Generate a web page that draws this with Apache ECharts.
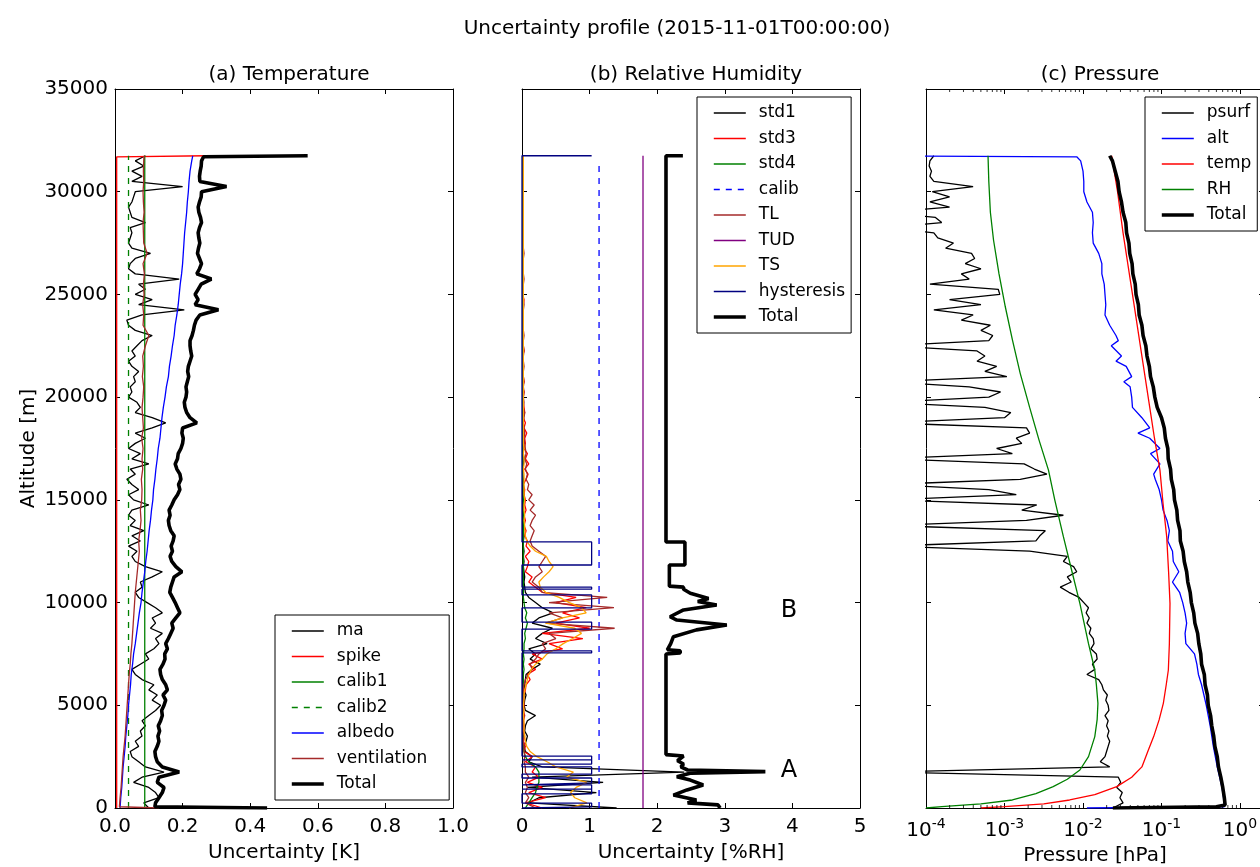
<!DOCTYPE html>
<html><head><meta charset="utf-8">
<script src="https://cdn.jsdelivr.net/npm/echarts@6/dist/echarts.min.js"></script>
<style>html,body{margin:0;padding:0;background:#fff}#chart{width:1260px;height:867px}</style>
</head><body><div id="chart"></div>
<script>
// ---------- altitude grids (m) ----------
const ALT250 = [
0,250,500,750,1000,1250,1500,1750,
2000,2250,2500,2750,3000,3250,3500,3750,
4000,4250,4500,4750,5000,5250,5500,5750,
6000,6250,6500,6750,7000,7250,7500,7750,
8000,8250,8500,8750,9000,9250,9500,9750,
10000,10250,10500,10750,11000,11250,11500,11750,
12000,12250,12500,12750,13000,13250,13500,13750,
14000,14250,14500,14750,15000,15250,15500,15750,
16000,16250,16500,16750,17000,17250,17500,17750,
18000,18250,18500,18750,19000,19250,19500,19750,
20000,20250,20500,20750,21000,21250,21500,21750,
22000,22250,22500,22750,23000,23250,23500,23750,
24000,24250,24500,24750,25000,25250,25500,25750,
26000,26250,26500,26750,27000,27250,27500,27750,
28000,28250,28500,28750,29000,29250,29500,29750,
30000,30250,30500,30750,31000,31250,31500,31750];
const ALT500 = [
0,500,1000,1500,2000,2500,3000,3500,
4000,4500,5000,5500,6000,6500,7000,7500,
8000,8500,9000,9500,10000,10500,11000,11500,
12000,12500,13000,13500,14000,14500,15000,15500,
16000,16500,17000,17500,18000,18500,19000,19500,
20000,20500,21000,21500,22000,22500,23000,23500,
24000,24500,25000,25500,26000,26500,27000,27500,
28000,28500,29000,29500,30000,30500,31000,31500,
31750];
// extra levels at the bottom / top of the sounding
const BASE_ALT = [0, 60];
const TOP_ALT = [31700, 31750];

// ---------- panel (a) Temperature, K ----------
const A_MA = [
0.10,0.085,0.13,0.12,0.10,0.055,0.08,0.145,
0.09,0.07,0.05,0.045,0.07,0.06,0.08,0.075,
0.09,0.08,0.10,0.12,0.135,0.11,0.125,0.10,
0.115,0.08,0.06,0.05,0.075,0.10,0.09,0.115,
0.13,0.12,0.14,0.105,0.12,0.11,0.14,0.12,
0.095,0.07,0.06,0.08,0.075,0.11,0.14,0.09,
0.06,0.05,0.065,0.04,0.075,0.05,0.085,0.045,
0.06,0.04,0.05,0.10,0.055,0.04,0.07,0.05,
0.035,0.06,0.045,0.10,0.05,0.075,0.04,0.06,
0.09,0.06,0.11,0.15,0.11,0.06,0.075,0.065,
0.04,0.05,0.045,0.06,0.055,0.07,0.05,0.04,
0.06,0.05,0.065,0.08,0.11,0.06,0.04,0.035,
0.08,0.205,0.07,0.11,0.06,0.09,0.07,0.19,
0.06,0.04,0.045,0.06,0.105,0.05,0.04,0.045,
0.05,0.045,0.09,0.05,0.045,0.04,0.05,0.055,
0.06,0.20,0.05,0.08,0.05,0.085,0.06,0.09];
// Total on ALT250 (index 0 = ground, last = top)
const A_TOTAL = [
0.45,0.12,0.13,0.14,0.145,0.125,0.13,0.19,
0.14,0.125,0.12,0.118,0.125,0.13,0.127,0.132,
0.128,0.135,0.14,0.138,0.145,0.15,0.142,0.155,
0.15,0.14,0.135,0.133,0.142,0.148,0.147,0.155,
0.15,0.158,0.165,0.172,0.168,0.18,0.192,0.185,
0.178,0.17,0.162,0.165,0.17,0.175,0.198,0.18,
0.168,0.163,0.17,0.166,0.172,0.175,0.165,0.16,
0.158,0.163,0.16,0.168,0.175,0.185,0.192,0.188,
0.195,0.192,0.183,0.178,0.185,0.187,0.195,0.2,
0.202,0.198,0.2,0.242,0.222,0.212,0.207,0.205,
0.21,0.212,0.21,0.214,0.218,0.215,0.217,0.222,
0.227,0.224,0.222,0.222,0.228,0.232,0.235,0.24,
0.251,0.306,0.237,0.246,0.237,0.246,0.255,0.285,
0.242,0.25,0.256,0.25,0.244,0.247,0.251,0.248,
0.246,0.25,0.256,0.253,0.248,0.246,0.25,0.255,
0.256,0.33,0.251,0.25,0.252,0.255,0.256,0.57];
const A_TOTAL_BASE = [0.45, 0.118];   // at BASE_ALT
const A_TOTAL_TOP = [0.262, 0.57];    // at TOP_ALT
const A_VENT = [
0.13,0.015,0.018,0.02,0.022,0.024,0.027,0.03,
0.032,0.034,0.036,0.038,0.04,0.042,0.045,0.047,
0.05,0.052,0.054,0.056,0.058,0.06,0.063,0.066,
0.069,0.072,0.07,0.074,0.077,0.075,0.079,0.08,
0.078,0.082,0.08,0.083,0.079,0.084,0.082,0.08,
0.083,0.085,0.081,0.084,0.082,0.09,0.10,0.083,
0.085,0.082,0.086,0.084,0.087,0.083,0.095,0.085,
0.084,0.083,0.086,0.084,0.083,0.085,0.084,0.085,
0.086];
const A_VENT_BASE = [0.13, 0.013];    // at BASE_ALT
const A_ALBEDO = [
0.015,0.017,0.02,0.022,0.024,0.027,0.03,0.032,
0.035,0.038,0.04,0.043,0.046,0.048,0.052,0.055,
0.06,0.064,0.068,0.072,0.077,0.08,0.084,0.088,
0.091,0.095,0.098,0.101,0.105,0.108,0.112,0.114,
0.118,0.121,0.125,0.128,0.133,0.136,0.139,0.143,
0.148,0.152,0.158,0.161,0.166,0.17,0.175,0.178,
0.183,0.187,0.19,0.193,0.197,0.2,0.202,0.204,
0.206,0.209,0.212,0.214,0.217,0.219,0.222,0.227,
0.23];
const A_SPIKE_ALT = [0, 31700, 31750];
const A_SPIKE = [0.005, 0.005, 0.27];
const A_CALIB_ALT = [0, 31750];
const A_CALIB1 = [0.088, 0.088];
const A_CALIB2 = [0.04, 0.04];

// ---------- panel (b) Relative Humidity, %RH ----------
const B_STD1 = [
1.4,0.1,0.25,1.1,0.08,1.2,0.15,2.4,
0.3,0.1,0.15,0.05,0.03,0.06,0.08,0.04,
0.05,0.08,0.2,0.05,0.03,0.04,0.06,0.03,
0.04,0.05,0.06,0.15,0.27,0.12,0.2,0.1,
0.37,0.2,0.3,0.45,0.15,0.25,0.46,0.3,
0.2,0.1,0.05,0.04,0.03,0.04,0.03,0.02,
0.03,0.02,0.03,0.02,0.02,0.03,0.02,0.02,
0.02,0.03,0.02,0.01,0.02,0.03,0.02,0.02,
0.02,0.01,0.02,0.02,0.03,0.02,0.01,0.02,
0.02,0.02,0.01,0.02,0.02,0.01,0.02,0.02,
0.01,0.02,0.01,0.02,0.01,0.02,0.01,0.02,
0.01,0.02,0.01,0.02,0.01,0.02,0.01,0.02,
0.01,0.02,0.01,0.02,0.01,0.02,0.01,0.02,
0.01,0.02,0.01,0.02,0.01,0.02,0.01,0.02,
0.01,0.02,0.01,0.02,0.01,0.02,0.01,0.02,
0.01,0.02,0.01,0.02,0.01,0.02,0.01,0.02];
const B_STD3 = [
0.3,0.05,0.35,0.1,0.3,0.08,0.25,0.15,
0.2,0.05,0.15,0.03,0.05,0.02,0.04,0.02,
0.03,0.02,0.04,0.02,0.03,0.02,0.03,0.05,
0.06,0.12,0.08,0.2,0.1,0.3,0.15,0.6,
0.4,0.9,0.3,1.0,0.5,0.85,0.6,0.95,
0.5,0.8,0.3,0.2,0.1,0.15,0.05,0.08,
0.1,0.05,0.12,0.06,0.08,0.04,0.06,0.03,
0.05,0.03,0.06,0.04,0.05,0.03,0.04,0.02,
0.06,0.09,0.04,0.1,0.05,0.08,0.03,0.05,
0.04,0.07,0.03,0.05,0.02,0.04,0.03,0.02,
0.02,0.03,0.01,0.03,0.02,0.01,0.02,0.02,
0.01,0.03,0.02,0.01,0.02,0.02,0.01,0.02,
0.02,0.01,0.02,0.03,0.01,0.02,0.01,0.02,
0.01,0.02,0.02,0.01,0.02,0.01,0.02,0.01,
0.02,0.01,0.01,0.02,0.01,0.02,0.01,0.01,
0.01,0.02,0.01,0.01,0.02,0.01,0.01,0.01];
const B_STD4 = [
0.05,0.1,0.15,0.2,0.22,0.25,0.25,0.25,
0.2,0.1,0.05,0.03,0.02,0.02,0.02,0.02,
0.02,0.02,0.02,0.02,0.02,0.02,0.02,0.02,
0.02,0.02,0.02,0.03,0.02,0.03,0.02,0.03,
0.03,0.05,0.04,0.06,0.08,0.05,0.07,0.04,
0.03,0.02,0.02,0.02,0.02,0.02,0.02,0.02,
0.02,0.02,0.02,0.02,0.02,0.02,0.02,0.02,
0.02,0.02,0.02,0.02,0.02,0.02,0.02,0.02,
0.01,0.01,0.01,0.01,0.01,0.01,0.01,0.01,
0.01,0.01,0.01,0.01,0.01,0.01,0.01,0.01,
0.01,0.01,0.01,0.01,0.01,0.01,0.01,0.01,
0.01,0.01,0.01,0.01,0.01,0.01,0.01,0.01,
0.01,0.01,0.01,0.01,0.01,0.01,0.01,0.01,
0.01,0.01,0.01,0.01,0.01,0.01,0.01,0.01,
0.01,0.01,0.01,0.01,0.01,0.01,0.01,0.01,
0.01,0.01,0.01,0.01,0.01,0.01,0.01,0.01];
const B_TL = [
0.2,0.05,0.1,0.05,0.08,0.05,0.1,0.05,
0.05,0.03,0.04,0.03,0.03,0.02,0.03,0.02,
0.02,0.02,0.03,0.02,0.02,0.02,0.03,0.02,
0.03,0.05,0.1,0.15,0.12,0.2,0.25,0.35,
0.3,0.5,0.4,1.37,0.35,0.6,0.4,1.36,
0.4,1.26,0.3,0.25,0.15,0.2,0.3,0.25,
0.3,0.35,0.25,0.15,0.12,0.15,0.18,0.12,
0.15,0.2,0.12,0.18,0.1,0.15,0.08,0.1,
0.06,0.08,0.05,0.07,0.04,0.06,0.05,0.04,
0.03,0.04,0.03,0.02,0.03,0.04,0.02,0.03,
0.02,0.03,0.02,0.03,0.02,0.02,0.03,0.02,
0.02,0.03,0.02,0.02,0.03,0.02,0.02,0.02,
0.02,0.02,0.03,0.02,0.02,0.02,0.02,0.03,
0.02,0.02,0.02,0.02,0.03,0.02,0.02,0.02,
0.02,0.02,0.02,0.02,0.02,0.02,0.02,0.02,
0.02,0.02,0.02,0.02,0.02,0.02,0.02,0.02];
const B_TS = [
0.7,0.96,0.78,0.72,0.8,0.96,0.66,0.76,
0.5,0.37,0.22,0.12,0.07,0.05,0.04,0.03,
0.03,0.03,0.02,0.03,0.02,0.03,0.03,0.04,
0.06,0.08,0.1,0.14,0.2,0.3,0.37,0.5,
0.61,0.75,0.88,0.78,0.35,0.6,0.95,0.88,
0.7,0.55,0.35,0.27,0.25,0.32,0.4,0.46,
0.4,0.36,0.2,0.12,0.07,0.05,0.04,0.04,
0.03,0.04,0.03,0.03,0.04,0.03,0.03,0.03,
0.03,0.03,0.02,0.03,0.03,0.02,0.03,0.02,
0.02,0.02,0.02,0.02,0.02,0.02,0.02,0.02,
0.02,0.02,0.02,0.02,0.02,0.02,0.02,0.02,
0.02,0.02,0.02,0.02,0.02,0.02,0.02,0.02,
0.02,0.02,0.02,0.02,0.02,0.02,0.02,0.02,
0.02,0.02,0.02,0.02,0.02,0.02,0.02,0.02,
0.02,0.02,0.02,0.02,0.02,0.02,0.02,0.02,
0.02,0.02,0.02,0.02,0.02,0.02,0.02,0.02];
const B_CALIB_ALT = [0, 31500];
const B_CALIB = [1.14, 1.14];
const B_TUD_ALT = [0, 31750];
const B_TUD = [1.79, 1.79];
const B_HYST_LO = [50, 690, 920, 1220, 1650, 2140, 2340, 7550, 8710, 9740, 10650, 11830];
const B_HYST_HI = [240, 920, 1130, 1460, 2000, 2340, 2530, 7650, 9050, 10370, 10750, 12950];
const B_HYST_VALUE = 1.03;
const B_HYST_TOP = 31750;
const B_TOTAL_ALT = [0,150,250,390,630,880,1120,1360,1520,1700,1770,1850,2000,2140,2300,2530,
  2600,7500,7550,7650,7700,8000,8340,8670,8910,9150,9310,9640,9880,10050,10200,10450,
  10650,10750,10800,11830,11830,12950,12950,31750,31750];
const B_TOTAL = [2.93,2.9,2.45,2.58,2.24,2.44,2.68,2.49,2.29,2.5,3.6,2.45,2.35,2.39,2.3,2.39,
  2.13,2.13,2.34,2.34,2.15,2.2,2.24,2.58,3.03,2.29,2.19,2.39,2.88,2.6,2.76,2.49,
  2.39,2.39,2.18,2.18,2.41,2.41,2.13,2.13,2.38];
const B_NOTES = [{name: 'B', x: 3.95, alt: 9600}, {name: 'A', x: 3.95, alt: 1800}];

// ---------- panel (c) Pressure, hPa (values stored as log10) ----------
const C_PSURF_LOG10 = [
-1.62,-1.49,-1.53,-1.50,-1.57,-1.52,-1.55,-4.5,
-1.66,-1.78,-1.72,-1.70,-1.68,-1.66,-1.69,-1.67,
-1.70,-1.68,-1.72,-1.67,-1.68,-1.71,-1.69,-1.74,
-1.76,-1.80,-1.95,-1.85,-1.88,-1.82,-1.83,-1.90,
-1.86,-1.87,-1.92,-1.90,-1.95,-1.92,-1.96,-1.93,
-1.99,-2.05,-2.18,-2.29,-2.15,-2.20,-2.08,-2.12,
-2.25,-2.20,-2.68,-4.5,-2.60,-2.55,-2.48,-4.5,
-2.72,-2.25,-2.78,-2.59,-4.5,-2.85,-3.2,-4.5,
-2.80,-2.46,-2.62,-2.75,-4.5,-2.9,-3.1,-2.78,
-2.85,-2.68,-2.72,-4.5,-3.0,-2.92,-3.25,-4.5,
-3.2,-3.05,-3.45,-4.5,-2.97,-3.25,-3.1,-3.35,
-3.25,-3.35,-4.5,-3.2,-3.15,-3.3,-3.18,-3.55,
-3.4,-3.9,-3.3,-3.7,-3.06,-3.08,-3.95,-3.45,
-3.55,-3.3,-3.5,-3.38,-3.42,-3.75,-3.65,-3.85,
-3.9,-4.5,-3.8,-3.88,-4.5,-3.7,-3.95,-3.7,
-3.92,-3.40,-3.9,-3.95,-3.93,-3.96,-3.95,-3.9];
const C_ALT_ALT = [0,60,500,1000,2000,3000,4000,5000,
  5500,6000,6500,7000,7500,8000,8500,9000,
  9500,10000,10500,11000,11500,12000,12500,13000,
  13500,14000,14500,15000,15500,16000,16250,16750,
  17250,17500,18000,18250,18500,19000,19500,20000,
  20500,20750,21000,21500,21750,22000,22500,22750,
  23000,23500,24000,24500,25000,25500,26000,26500,
  27000,27500,28000,28500,29000,29500,30000,30500,
  31000,31500,31700,31750];
const C_ALT_LOG10 = [-1.95,-0.2,-0.21,-0.23,-0.29,-0.34,-0.38,-0.43,
  -0.46,-0.49,-0.53,-0.55,-0.58,-0.69,-0.70,-0.68,
  -0.70,-0.73,-0.77,-0.86,-0.78,-0.85,-0.86,-0.92,
  -0.90,-0.93,-0.98,-1.0,-1.03,-1.08,-1.10,-1.02,
  -1.14,-1.02,-1.15,-1.3,-1.15,-1.25,-1.37,-1.38,
  -1.40,-1.48,-1.38,-1.45,-1.58,-1.51,-1.64,-1.55,
  -1.58,-1.66,-1.72,-1.71,-1.72,-1.73,-1.76,-1.76,
  -1.80,-1.87,-1.88,-1.87,-1.88,-1.95,-1.99,-1.99,
  -2.0,-2.03,-2.08,-5];
const C_TEMP_ALT = [0,65,200,390,650,1040,1500,2000,2800,3475,4300,5095,6000,6718,8000,9960,
  11500,13210,14800,16450,18000,20000,22000,24000,26000,28000,30000,31750];
const C_TEMP_LOG10 = [-3.3,-3.0,-2.5,-2.17,-1.85,-1.57,-1.38,-1.25,-1.17,-1.10,-1.03,-0.977,-0.94,-0.913,-0.90,-0.892,
  -0.91,-0.934,-0.98,-1.02,-1.09,-1.17,-1.25,-1.33,-1.41,-1.49,-1.56,-1.635];
const C_RH_ALT = [0,65,200,390,700,1040,1400,1850,2500,3475,4300,5095,6000,6718,8000,9960,
  11500,13210,15000,16450,17910,19500,21160,22800,24400,26000,27650,29000,30500,31750];
const C_RH_LOG10 = [-4.0,-3.8,-3.3,-2.9,-2.6,-2.38,-2.2,-2.04,-1.93,-1.85,-1.82,-1.81,-1.83,-1.85,-1.93,-2.04,
  -2.14,-2.25,-2.36,-2.44,-2.56,-2.68,-2.80,-2.90,-2.99,-3.07,-3.14,-3.18,-3.20,-3.21];
const C_TOTAL_ALT = [0,60,150,
  500,1000,1500,2000,2500,3000,3500,4000,
  4500,5000,5500,6000,6500,7000,7500,8000,
  8500,9000,9500,10000,10500,11000,11500,12000,
  12500,13000,13500,14000,14500,15000,15500,16000,
  16500,17000,17500,18000,18500,19000,19500,20000,
  20500,21000,21500,22000,22500,23000,23500,24000,
  24500,25000,25500,26000,26500,27000,27500,28000,
  28500,29000,29500,30000,30500,31000,31500,31750];
const C_TOTAL_LOG10 = [-1.62,-0.30,-0.19,
  -0.20,-0.22,-0.245,-0.275,-0.29,-0.32,-0.335,-0.36,
  -0.375,-0.405,-0.415,-0.445,-0.455,-0.49,-0.50,-0.525,
  -0.54,-0.575,-0.59,-0.62,-0.635,-0.665,-0.68,-0.71,
  -0.725,-0.76,-0.765,-0.795,-0.805,-0.835,-0.845,-0.875,
  -0.885,-0.915,-0.92,-0.95,-0.965,-1.0,-1.055,-1.085,
  -1.105,-1.14,-1.155,-1.185,-1.20,-1.235,-1.25,-1.285,
  -1.295,-1.325,-1.335,-1.365,-1.375,-1.405,-1.415,-1.445,
  -1.455,-1.49,-1.51,-1.54,-1.555,-1.59,-1.625,-1.66];

// ---------- axis / tick settings ----------
const ALT_TICKS = [0, 5000, 10000, 15000, 20000, 25000, 30000, 35000];
const A_XTICKS = [0, 0.2, 0.4, 0.6, 0.8, 1.0];
const B_XTICKS = [0, 1, 2, 3, 4, 5];
const C_XRANGE = [1e-4, 2.02];
const C_MINOR_TICKS = [
  2e-4,3e-4,4e-4,5e-4,6e-4,7e-4,8e-4,9e-4,
  2e-3,3e-3,4e-3,5e-3,6e-3,7e-3,8e-3,9e-3,
  2e-2,3e-2,4e-2,5e-2,6e-2,7e-2,8e-2,9e-2,
  2e-1,3e-1,4e-1,5e-1,6e-1,7e-1,8e-1,9e-1, 2];

const A_NAMES = ['ma','spike','calib1','calib2','albedo','ventilation','Total'];
const B_NAMES = ['std1','std3','std4','calib','TL','TUD','TS','hysteresis','Total'];
const C_NAMES = ['psurf','alt','temp','RH','Total'];

// ---------- helpers ----------
const FONT = 'DejaVu Sans';
const THIN = 1.3, THICK = 3.6;
const pairs = (xs, ys) => xs.map((v, i) => [v, ys[i]]);
const pow10 = a => a.map(v => Math.pow(10, v));
function hysteresisPath() {
  const p = [[0, 0]];
  B_HYST_LO.forEach((lo, i) => {
    const hi = B_HYST_HI[i];
    p.push([0, lo], [B_HYST_VALUE, lo], [B_HYST_VALUE, hi], [0, hi]);
  });
  p.push([0, B_HYST_TOP], [B_HYST_VALUE, B_HYST_TOP]);
  return p;
}
function line(name, data, idx, color, width, dash) {
  return {
    name, type: 'line', xAxisIndex: idx, yAxisIndex: idx, data,
    symbol: 'none', showSymbol: false, clip: true, animation: false,
    lineStyle: {color, width, type: dash || 'solid'},
    itemStyle: {color}, emphasis: {disabled: true}
  };
}
function legendData(names) {
  return names.map(n => n === 'Total' ? {name: n, lineStyle: {width: THICK}} : {name: n});
}

const aTotalData = pairs(A_TOTAL_BASE, BASE_ALT)
  .concat(pairs(A_TOTAL.slice(1, -1), ALT250.slice(1, -1)))
  .concat(pairs(A_TOTAL_TOP, TOP_ALT));
const aVentData = pairs(A_VENT_BASE, BASE_ALT).concat(pairs(A_VENT.slice(1), ALT500.slice(1)));

function valueX(grid, min, max, interval, pos, labelFmt, name) {
  return {
    type: 'value', gridIndex: grid, min, max, interval, position: pos,
    axisLine: {show: true, onZero: false, lineStyle: {color: '#000', width: 1}},
    axisTick: {show: true, inside: true, length: 5, lineStyle: {color: '#000'}},
    axisLabel: {show: pos === 'bottom', formatter: labelFmt, fontSize: 20, color: '#000', fontFamily: FONT, margin: 9},
    splitLine: {show: false},
    name: pos === 'bottom' ? name : '', nameLocation: 'middle', nameGap: 35,
    nameTextStyle: {fontSize: 20, color: '#000', fontFamily: FONT}
  };
}
function logX(grid, pos, name) {
  return {
    type: 'log', logBase: 10, gridIndex: grid, min: C_XRANGE[0], max: C_XRANGE[1], position: pos,
    axisLine: {show: true, onZero: false, lineStyle: {color: '#000', width: 1}},
    axisTick: {show: true, inside: true, length: 5, lineStyle: {color: '#000'}},
    axisLabel: {
      show: pos === 'bottom', margin: 9,
      formatter: v => {
        const e = Math.log10(v), r = Math.round(e);
        if (Math.abs(e - r) > 1e-6) return '';
        return '{b|10}{s|' + r + '}';
      },
      rich: {
        b: {fontSize: 20, color: '#000', fontFamily: FONT},
        s: {fontSize: 14, color: '#000', fontFamily: FONT, padding: [0, 0, 14, 0]}
      }
    },
    splitLine: {show: false},
    name: pos === 'bottom' ? name : '', nameLocation: 'middle', nameGap: 35,
    nameTextStyle: {fontSize: 20, color: '#000', fontFamily: FONT}
  };
}
function altY(grid, pos, showLabel, name) {
  return {
    type: 'value', gridIndex: grid, min: ALT_TICKS[0], max: ALT_TICKS[ALT_TICKS.length - 1],
    interval: ALT_TICKS[1] - ALT_TICKS[0], position: pos,
    axisLine: {show: true, onZero: false, lineStyle: {color: '#000', width: 1}},
    axisTick: {show: true, inside: true, length: 5, lineStyle: {color: '#000'}},
    axisLabel: {show: showLabel, formatter: v => String(v), fontSize: 20, color: '#000', fontFamily: FONT, margin: 7},
    splitLine: {show: false},
    name: name || '', nameLocation: 'middle', nameGap: 76, nameRotate: 90,
    nameTextStyle: {fontSize: 20, color: '#000', fontFamily: FONT}
  };
}
// minor ticks of the log axis (inside, bottom and top edges)
function minorTicks(alt, offset) {
  return {
    name: '_minor', type: 'scatter', xAxisIndex: 2, yAxisIndex: 2, silent: true, clip: false,
    data: C_MINOR_TICKS.map(v => [v, alt]),
    symbol: 'rect', symbolSize: [1, 3], symbolOffset: [0, offset],
    itemStyle: {color: '#000'}, animation: false, z: 5
  };
}
const legendCommon = {
  orient: 'vertical', backgroundColor: '#fff', borderColor: '#000', borderWidth: 1, borderRadius: 0,
  itemWidth: 32, itemHeight: 14, itemGap: 5.5, selectedMode: false,
  itemStyle: {color: 'rgba(0,0,0,0)', borderColor: 'rgba(0,0,0,0)', borderWidth: 0, opacity: 0},
  lineStyle: {width: 'inherit'},
  textStyle: {fontFamily: FONT, fontSize: 17, color: '#000', lineHeight: 20, padding: [0, 0, 0, 8]},
  z: 10
};
const titleStyle = {fontSize: 20, fontWeight: 'normal', color: '#000', fontFamily: FONT};

const option = {
  animation: false,
  backgroundColor: '#fff',
  textStyle: {fontFamily: FONT},
  title: [
    {text: 'Uncertainty profile (2015-11-01T00:00:00)', left: 672, top: 14, textAlign: 'center', textStyle: titleStyle},
    {text: '(a) Temperature', left: 284, top: 60, textAlign: 'center', textStyle: titleStyle},
    {text: '(b) Relative Humidity', left: 691, top: 60, textAlign: 'center', textStyle: titleStyle},
    {text: '(c) Pressure', left: 1095, top: 60, textAlign: 'center', textStyle: titleStyle}
  ],
  legend: [
    Object.assign({}, legendCommon, {data: legendData(A_NAMES), left: 275, top: 615, padding: [6, 22, 6, 15]}),
    Object.assign({}, legendCommon, {data: legendData(B_NAMES), left: 697, top: 97, padding: [6, 6, 6, 15]}),
    Object.assign({}, legendCommon, {data: legendData(C_NAMES), left: 1145, top: 97, padding: [6, 6, 6, 15]})
  ],
  grid: [
    {left: 115, top: 89, width: 338, height: 719, outerBoundsMode: 'none', containLabel: false},
    {left: 522, top: 89, width: 338, height: 719, outerBoundsMode: 'none', containLabel: false},
    {left: 926, top: 89, width: 338, height: 719, outerBoundsMode: 'none', containLabel: false}
  ],
  xAxis: [
    valueX(0, A_XTICKS[0], A_XTICKS[A_XTICKS.length - 1], A_XTICKS[1] - A_XTICKS[0], 'bottom', v => v.toFixed(1), 'Uncertainty [K]'),
    valueX(1, B_XTICKS[0], B_XTICKS[B_XTICKS.length - 1], B_XTICKS[1] - B_XTICKS[0], 'bottom', v => String(v), 'Uncertainty [%RH]'),
    logX(2, 'bottom', 'Pressure [hPa]'),
    valueX(0, A_XTICKS[0], A_XTICKS[A_XTICKS.length - 1], A_XTICKS[1] - A_XTICKS[0], 'top'),
    valueX(1, B_XTICKS[0], B_XTICKS[B_XTICKS.length - 1], B_XTICKS[1] - B_XTICKS[0], 'top'),
    logX(2, 'top')
  ],
  yAxis: [
    altY(0, 'left', true, 'Altitude [m]'),
    altY(1, 'left', false),
    altY(2, 'left', false),
    altY(0, 'right', false),
    altY(1, 'right', false),
    altY(2, 'right', false)
  ],
  series: [
    // (a)
    line('ma', pairs(A_MA, ALT250), 0, '#000000', THIN),
    line('spike', pairs(A_SPIKE, A_SPIKE_ALT), 0, '#ff0000', THIN),
    line('calib1', pairs(A_CALIB1, A_CALIB_ALT), 0, '#008000', THIN),
    line('calib2', pairs(A_CALIB2, A_CALIB_ALT), 0, '#008000', THIN, [6, 6]),
    line('albedo', pairs(A_ALBEDO, ALT500), 0, '#0000ff', THIN),
    line('ventilation', aVentData, 0, '#a52a2a', THIN),
    line('Total', aTotalData, 0, '#000000', THICK),
    // (b)
    line('std1', pairs(B_STD1, ALT250), 1, '#000000', THIN),
    line('std3', pairs(B_STD3, ALT250), 1, '#ff0000', THIN),
    line('std4', pairs(B_STD4, ALT250), 1, '#008000', THIN),
    line('calib', pairs(B_CALIB, B_CALIB_ALT), 1, '#0000ff', THIN, [6, 6]),
    line('TL', pairs(B_TL, ALT250), 1, '#a52a2a', THIN),
    line('TUD', pairs(B_TUD, B_TUD_ALT), 1, '#800080', THIN),
    line('TS', pairs(B_TS, ALT250), 1, '#ffa500', THIN),
    line('hysteresis', hysteresisPath(), 1, '#000080', THIN),
    Object.assign(line('Total', pairs(B_TOTAL, B_TOTAL_ALT), 1, '#000000', THICK), {
      markPoint: {
        symbol: 'circle', symbolSize: 2, itemStyle: {color: 'rgba(0,0,0,0)'},
        label: {show: true, position: 'inside', formatter: '{b}', color: '#000', fontSize: 24, fontFamily: FONT},
        data: B_NOTES.map(n => ({name: n.name, coord: [n.x, n.alt]}))
      }
    }),
    // (c)
    line('psurf', pairs(pow10(C_PSURF_LOG10), ALT250), 2, '#000000', THIN),
    line('alt', pairs(pow10(C_ALT_LOG10), C_ALT_ALT), 2, '#0000ff', THIN),
    line('temp', pairs(pow10(C_TEMP_LOG10), C_TEMP_ALT), 2, '#ff0000', THIN),
    line('RH', pairs(pow10(C_RH_LOG10), C_RH_ALT), 2, '#008000', THIN),
    line('Total', pairs(pow10(C_TOTAL_LOG10), C_TOTAL_ALT), 2, '#000000', THICK),
    minorTicks(ALT_TICKS[0], -1.5),
    minorTicks(ALT_TICKS[ALT_TICKS.length - 1], 1.5)
  ]
};
const chart = echarts.init(document.getElementById('chart'), null, {renderer: 'canvas'});
chart.setOption(option);
</script>
</body></html>
